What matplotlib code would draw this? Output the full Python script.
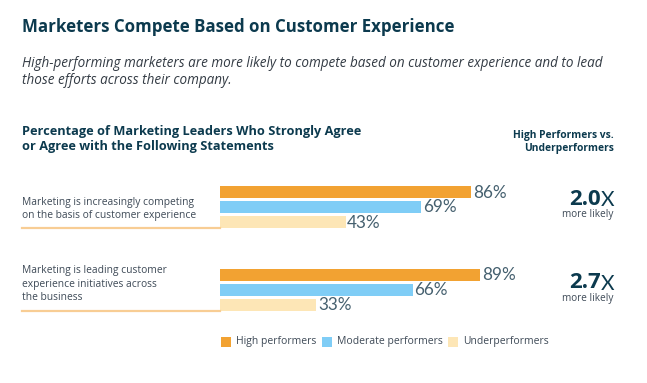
import matplotlib
matplotlib.use("Agg")
import matplotlib.pyplot as plt
from matplotlib.patches import Rectangle

W, H = 647, 383

statements = [
    "Marketing is increasingly competing\non the basis of customer experience",
    "Marketing is leading customer\nexperience initiatives across\nthe business",
]
series = ["High performers", "Moderate performers", "Underperformers"]
high = [86, 89]
moderate = [69, 66]
under = [43, 33]
multipliers = ["2.0", "2.7"]
colors = ["#F2A232", "#7FCDF6", "#FDE6B6"]

title_color = "#0C3A4E"
text_color = "#3E4A57"
value_color = "#45606F"
FONT = "Open Sans"

fig = plt.figure(figsize=(W / 100, H / 100), dpi=100)


def fx(x):
    return x / W


def fy(y):
    return 1 - y / H


# Titles
fig.text(fx(22), fy(27), "Marketers Compete Based on Customer Experience",
         fontsize=12.2, fontweight="bold", color=title_color, family=FONT,
         va="center", ha="left")
fig.text(fx(22), fy(72),
         "High-performing marketers are more likely to compete based on customer experience and to lead\nthose efforts across their company.",
         fontsize=9.75, style="italic", color="#333B44", family=FONT,
         va="center", ha="left", linespacing=1.2)
fig.text(fx(22), fy(139),
         "Percentage of Marketing Leaders Who Strongly Agree\nor Agree with the Following Statements",
         fontsize=9.2, fontweight="bold", color=title_color, family=FONT,
         va="center", ha="left", linespacing=1.25)
fig.text(fx(614), fy(142), "High Performers vs.\nUnderperformers",
         fontsize=7.4, fontweight="bold", color=title_color, family=FONT,
         va="center", ha="right", linespacing=1.3, multialignment="right")

# Bar axes: x 0..100 mapped from px 220, 2.92 px per percent
x0_px = 220
px_per = 2.92
ax_top, ax_bot = 180, 316
ax = fig.add_axes([fx(x0_px), fy(ax_bot), fx(100 * px_per), (ax_bot - ax_top) / H])
ax.set_xlim(0, 100)
ax.set_ylim(ax_bot, ax_top)
ax.axis("off")

group_start = [186, 268.5]
bar_step = 15
bar_h = 12
vals = [high, moderate, under]
for g in range(len(statements)):
    for s in range(3):
        yc = group_start[g] + s * bar_step + bar_h / 2
        v = vals[s][g]
        ax.barh(yc, v, height=bar_h, color=colors[s], linewidth=0)
        ax.text(v + 0.6, yc + 0.5, f"{v}%", fontsize=12.3, color=value_color,
                family="Lato", fontweight="normal", va="center", ha="left")

# Statement labels and underline
label_y = [209, 284]
line_y = [227.5, 310.5]
for g, st in enumerate(statements):
    fig.text(fx(22), fy(label_y[g]), st, fontsize=7.4, color=text_color,
             family=FONT, va="center", ha="left", linespacing=1.3)
    fig.add_artist(plt.Line2D([fx(22), fx(220)], [fy(line_y[g]), fy(line_y[g])],
                              color="#F8CD94", lw=1.6, transform=fig.transFigure))

# Multipliers
mult_y = [199, 283]
for g, m in enumerate(multipliers):
    fig.text(fx(601), fy(mult_y[g]), m, fontsize=16, fontweight="bold",
             color=title_color, family=FONT, va="center", ha="right")
    fig.text(fx(601), fy(mult_y[g] + 1), "X", fontsize=15, color=title_color,
             family="Lato", fontweight="normal", va="center", ha="left")
    fig.text(fx(588), fy(mult_y[g] + 15), "more likely", fontsize=7.2,
             color=text_color, family=FONT, va="center", ha="center")

# Legend
leg_x = [221, 322, 448]
for s, name in enumerate(series):
    fig.add_artist(Rectangle((fx(leg_x[s]), fy(347)), fx(10), 10 / H,
                             color=colors[s], transform=fig.transFigure, lw=0))
    fig.text(fx(leg_x[s] + 15), fy(341.5), name, fontsize=7.5, color=text_color,
             family=FONT, va="center", ha="left")

fig.savefig("out.png", dpi=100)
